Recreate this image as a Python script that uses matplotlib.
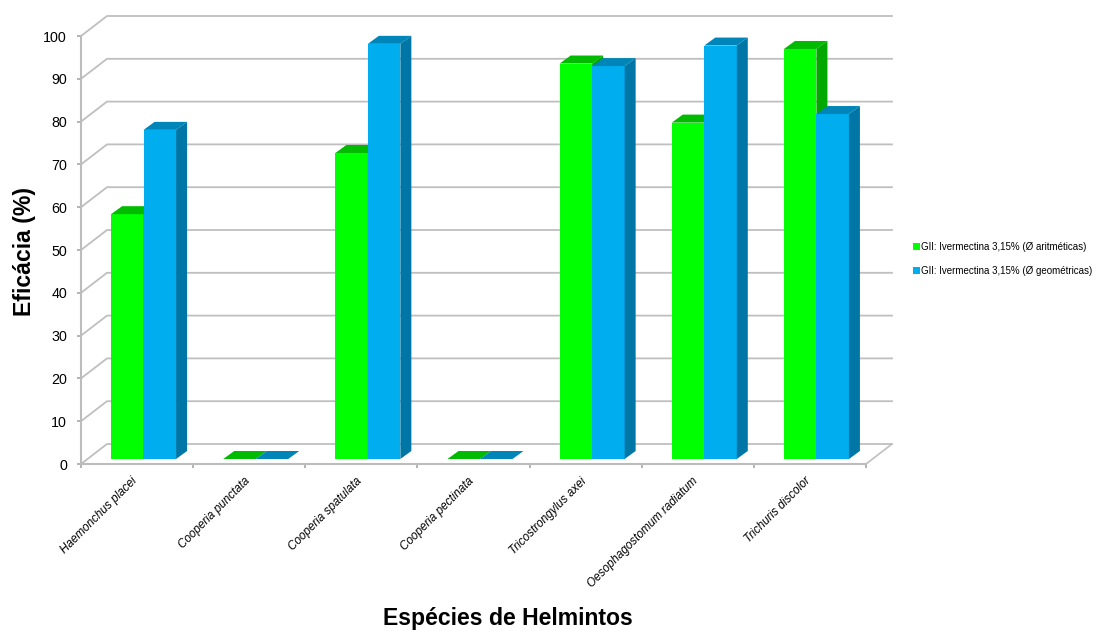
import matplotlib
matplotlib.use("Agg")
import matplotlib.pyplot as plt
from matplotlib.patches import Polygon, Patch

plt.rcParams['font.family'] = ['Liberation Sans', 'DejaVu Sans']

species = ["Haemonchus placei", "Cooperia punctata", "Cooperia spatulata",
           "Cooperia pectinata", "Tricostrongylus axei",
           "Oesophagostomum radiatum", "Trichuris discolor"]
aritmeticas = [57.2, 0, 71.5, 0, 92.4, 78.6, 95.8]
geometricas = [76.9, 0, 97.0, 0, 91.8, 96.6, 80.6]
series_labels = ["GII: Ivermectina 3,15% (Ø aritméticas)",
                 "GII: Ivermectina 3,15% (Ø geométricas)"]
y_ticks = list(range(0, 101, 10))

W, H = 1098, 631
fig = plt.figure(figsize=(W / 100, H / 100), dpi=100, facecolor="white")
left, right, top, bottom = 81, 866, 36, 464
ax = fig.add_axes([left / W, 1 - bottom / H, (right - left) / W, (bottom - top) / H])
ax.set_xlim(0, len(species))
ax.set_ylim(0, 100)
ax.patch.set_visible(False)
for side in ("top", "right"):
    ax.spines[side].set_visible(False)
for side in ("left", "bottom"):
    ax.spines[side].set_color("#bcbcbc")
    ax.spines[side].set_linewidth(1.5)

# Conversions from pixel depth to data units on each axis
px_x = len(species) / (right - left)
px_y = 100 / (bottom - top)
wall_dx, wall_dy = 26 * px_x, 20 * px_y
bar_dx, bar_dy = 11 * px_x, 8 * px_y
base = 5 * px_y
bar_w = 32.5 * px_x
bar_shift = 6.5 * px_x

GRID = "#bfbfbf"
n = len(species)
for v in y_ticks:
    ax.plot([0, wall_dx, n + wall_dx], [v, v + wall_dy, v + wall_dy],
            color=GRID, lw=1.3, clip_on=False, zorder=1)
ax.plot([n, n + wall_dx], [0, wall_dy], color=GRID, lw=1.2, clip_on=False, zorder=1)


def draw_bar(x0, value, front, roof, flank):
    x1 = x0 + bar_w
    y0, y1 = base, base + value
    ax.add_patch(Polygon([(x0, y0), (x1, y0), (x1, y1), (x0, y1)],
                         fc=front, ec="none", clip_on=False, zorder=3))
    ax.add_patch(Polygon([(x0, y1), (x1, y1), (x1 + bar_dx, y1 + bar_dy), (x0 + bar_dx, y1 + bar_dy)],
                         fc=roof, ec="none", clip_on=False, zorder=3))
    ax.add_patch(Polygon([(x1, y0), (x1 + bar_dx, y0 + bar_dy), (x1 + bar_dx, y1 + bar_dy), (x1, y1)],
                         fc=flank, ec="none", clip_on=False, zorder=3))


GREEN = ("#00ff00", "#00bb00", "#00a800")
BLUE = ("#00aeef", "#0085b8", "#0076a6")
# Left bar first so that its neighbour overlaps the shared flank
for i, (a, g) in enumerate(zip(aritmeticas, geometricas)):
    c = i + 0.5 + bar_shift
    draw_bar(c - bar_w, a, *GREEN)
    draw_bar(c, g, *BLUE)

ax.set_yticks(y_ticks)
ax.tick_params(axis="y", labelsize=10.3, length=3, width=1.2, color="#a8a8a8", pad=7, labelcolor="black")
ax.set_xticks(range(n + 1))
ax.set_xticklabels([])
ax.tick_params(axis="x", length=3, width=1.2, color="#a8a8a8")
for i, name in enumerate(species):
    ax.annotate(name, xy=(i + 0.5, 0), xytext=(-4, -8), textcoords="offset points",
                rotation=45, rotation_mode="anchor", ha="right", va="top",
                style="italic", fontsize=8.4, color="black", annotation_clip=False)

fig.text(508 / W, 1 - 618 / H, "Espécies de Helmintos", ha="center", va="center",
         fontsize=16.6, fontweight="bold")
fig.text(24 / W, 1 - 252 / H, "Eficácia (%)", ha="center", va="center",
         rotation=90, fontsize=16.6, fontweight="bold")

handles = [Patch(fc=GREEN[0], ec="none"), Patch(fc=BLUE[0], ec="none")]
fig.legend(handles, series_labels, loc="center left",
           bbox_to_anchor=(913 / W, 1 - 259 / H), frameon=False, fontsize=7.05,
           handlelength=0.7, handleheight=0.7, handletextpad=0.1,
           labelspacing=1.45, borderpad=0, borderaxespad=0)

fig.savefig("out.png", dpi=100)
